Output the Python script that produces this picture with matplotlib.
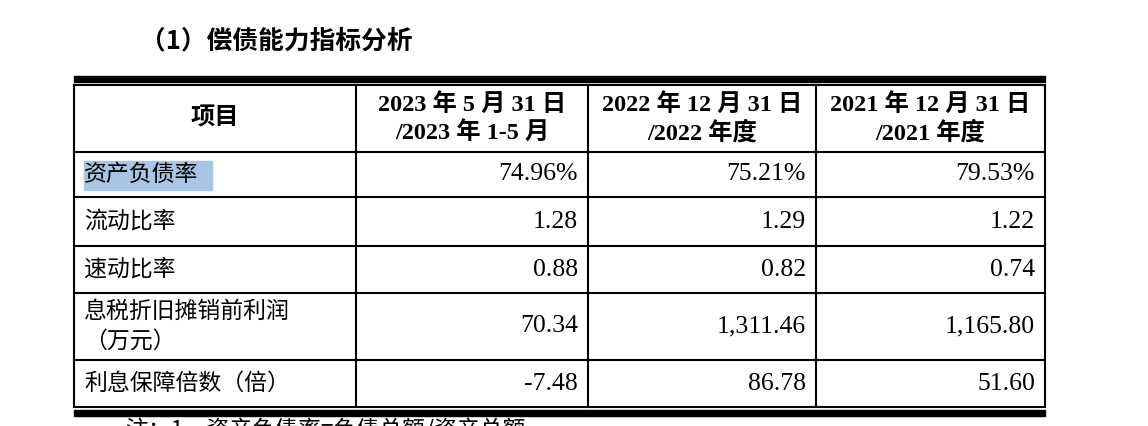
import matplotlib
matplotlib.use("Agg")
import matplotlib.pyplot as plt
from matplotlib.patches import Rectangle

headers = ["项目", "2023 年 5 月 31 日\n/2023 年 1-5 月", "2022 年 12 月 31 日\n/2022 年度", "2021 年 12 月 31 日\n/2021 年度"]
items = ["资产负债率", "流动比率", "速动比率", "息税折旧摊销前利润\n（万元）", "利息保障倍数（倍）"]
col2023 = ["74.96%", "1.28", "0.88", "70.34", "-7.48"]
col2022 = ["75.21%", "1.29", "0.82", "1,311.46", "86.78"]
col2021 = ["79.53%", "1.22", "0.74", "1,165.80", "51.60"]

fam = ['Liberation Serif', 'Noto Sans CJK SC']
fig = plt.figure(figsize=(11.48, 4.26), dpi=100)
ax = fig.add_axes([0, 0, 1, 1])
ax.set_xlim(0, 1148); ax.set_ylim(426, 0); ax.axis('off')

ax.text(140, 41, "（1）偿债能力指标分析", fontsize=18.5, fontweight='bold', family=['Noto Sans CJK SC'], va='center')

L, R = 74, 1045
cols = [L, 356, 588, 816, R]
rows = [85, 152, 197, 246, 293, 360, 407]
ax.add_patch(Rectangle((L, 76), R - L, 6, color='black'))
ax.plot([L, R], [85, 85], color='black', lw=1.5)
for y in rows[1:-1]:
    ax.plot([L, R], [y, y], color='black', lw=1.5)
ax.plot([L, R], [407, 407], color='black', lw=1.5)
ax.add_patch(Rectangle((L, 410), R - L, 6, color='black'))
for x in cols:
    ax.plot([x, x], [85, 407], color='black', lw=1.5)

ax.add_patch(Rectangle((84, 161), 128, 29, color='#a9c4e4'))

for i, h in enumerate(headers):
    cx = (cols[i] + cols[i + 1]) / 2
    ax.text(cx, (85 + 152) / 2, h, fontsize=17.5, fontweight='bold', family=fam,
            ha='center', va='center', linespacing=1.25)

for r, name in enumerate(items):
    cy = (rows[r + 1] + rows[r + 2]) / 2
    ax.text(84, cy, name, fontsize=16.5, family=['Noto Sans CJK SC'], ha='left', va='center', linespacing=1.35)
    for c, col in enumerate([col2023, col2022, col2021]):
        ax.text(cols[c + 2] - 10, cy, col[r], fontsize=18.5, family=fam, ha='right', va='center')

ax.text(125, 418, "注：1、资产负债率=负债总额/资产总额", fontsize=16.5, family=['Noto Sans CJK SC'], va='top')
fig.savefig("out.png", dpi=100)
